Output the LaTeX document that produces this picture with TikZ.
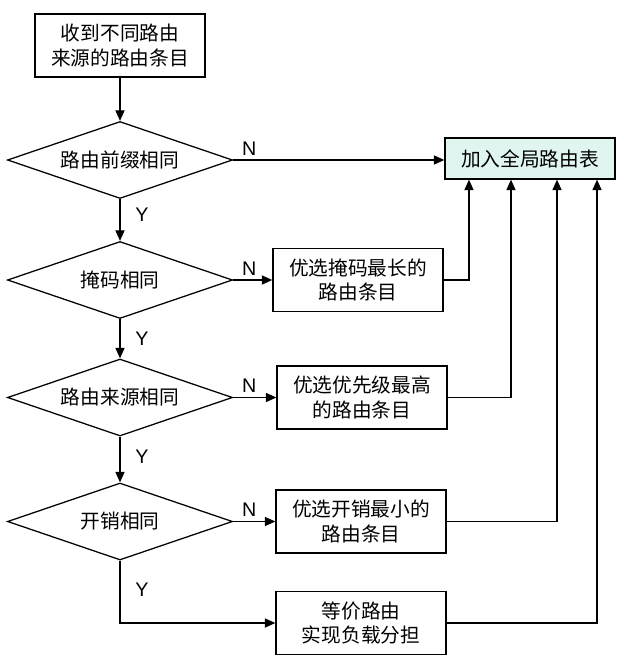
\documentclass[tikz,border=0pt]{standalone}
\usepackage{fontspec}
\setmainfont{Liberation Sans}
\newfontfamily\cjk{Noto Sans CJK SC}
\usetikzlibrary{shapes.geometric,arrows.meta}
\definecolor{goalfill}{RGB}{224,244,240}

\begin{document}
\begin{tikzpicture}[x=0.025cm,y=-0.025cm,
	cjktext/.style={font=\cjk\fontsize{14}{17.5}\selectfont},
	box/.style={cjktext,shape=rectangle,draw=black,line width=0.9pt,minimum width=4.25cm,minimum height=1.575cm,align=center,inner sep=2pt},
	goal/.style={box,fill=goalfill,minimum height=1.025cm},
	test/.style={cjktext,shape=diamond,aspect=2.92,draw=black,line width=0.9pt,minimum width=5.625cm,minimum height=1.925cm,inner sep=0pt},
	line/.style={draw=black,line width=0.9pt,-{Triangle[length=7.5pt,width=6.5pt]}},
	yes/.style={right=0.3cm,inner sep=2pt,font=\fontsize{14}{16}\selectfont},
	no/.style={pos=0,anchor=south west,xshift=3pt,inner sep=3pt,font=\fontsize{14}{16}\selectfont}]
	
	\useasboundingbox (0,0) rectangle (624,664);
	
	\node[box] (a) at (120,45.5)    {收到不同路由\\来源的路由条目};
	\node[test] (b) at (120,160)    {路由前缀相同};
	\node[goal] (c) at (530,158.5)  {加入全局路由表};
	\node[test] (d) at (120,280)    {掩码相同};
	\node[box] (e) at (358,280)     {优选掩码最长的\\路由条目};
	\node[test] (f) at (120,397.5)  {路由来源相同};
	\node[box] (g) at (362,397.5)   {优选优先级最高\\的路由条目};
	\node[test] (h) at (120,521.5)  {开销相同};
	\node[box] (i) at (361,521.5)   {优选开销最小的\\路由条目};
	\node[box] (j) at (361,623)     {等价路由\\实现负载分担};
	
	\path (a) edge[line] (b);
	\path (b) edge[line] node[yes,pos=0.37] {Y} (d);
	\path (d) edge[line] node[yes,pos=0.49] {Y} (f);
	\path (f) edge[line] node[yes,pos=0.43] {Y} (h);
	\draw[line] (h.south) |- node[yes,pos=0.23] {Y} (j.west);
	
	\path (b.east) edge[line] node[no] {N} (b.east -| c.west);
	\path (d.east) edge[line] node[no] {N} (e.west);
	\path (f.east) edge[line] node[no] {N} (g.west);
	\path (h.east) edge[line] node[no] {N} (i.west);
	
	\draw[line] (e.east) -| ([xshift=-1.525cm]c.south);
	\draw[line] (g.east) -| ([xshift=-0.475cm]c.south);
	\draw[line] (i.east) -| ([xshift=0.675cm]c.south);
	\draw[line] (j.east) -| ([xshift=1.675cm]c.south);
\end{tikzpicture}
\end{document}
